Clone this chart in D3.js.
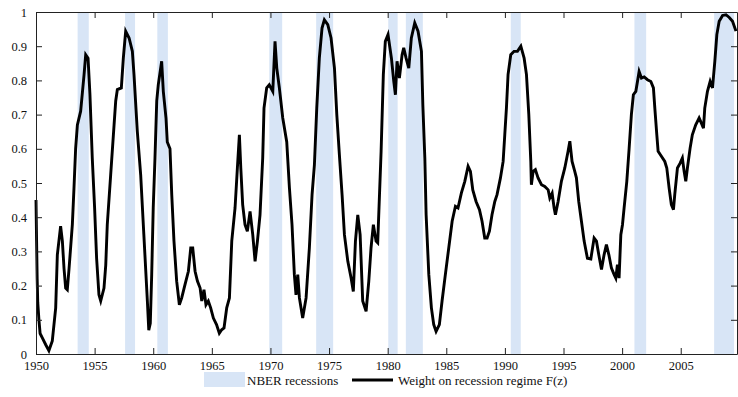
<!DOCTYPE html>
<html>
<head>
<meta charset="utf-8">
<script src="https://cdn.jsdelivr.net/npm/d3@7"></script>
<style>
  body { margin: 0; background: #fff; }
  svg text { font-family: "Liberation Serif", "Times New Roman", serif; fill: #111; }
</style>
</head>
<body>
<svg width="738" height="397"></svg>
<script>
// NBER recession periods [start, end]
var recessionStart = [1953.55, 1957.6, 1960.35, 1969.9, 1973.9, 1980.05, 1981.55, 1990.5, 2001.05, 2007.85];
var recessionEnd   = [1954.5, 1958.45, 1961.25, 1971.0, 1975.35, 1980.85, 1983.0, 1991.35, 2002.05, 2009.55];

// weight on recession regime F(z)
var years = [
	1950.00, 1950.05, 1950.10, 1950.15, 1950.25, 1950.35, 1950.54, 1950.83, 1951.10, 1951.39,
	1951.68, 1951.82, 1952.10, 1952.25, 1952.39, 1952.53, 1952.67, 1952.82, 1953.10, 1953.24,
	1953.38, 1953.53, 1953.81, 1954.10, 1954.24, 1954.44, 1954.60, 1954.80, 1955.00, 1955.17,
	1955.37, 1955.52, 1955.80, 1955.95, 1956.08, 1956.37, 1956.66, 1956.80, 1956.94, 1957.28,
	1957.45, 1957.65, 1957.94, 1958.22, 1958.36, 1958.64, 1958.93, 1959.20, 1959.50, 1959.62,
	1959.75, 1959.87, 1960.00, 1960.15, 1960.30, 1960.43, 1960.72, 1960.86, 1961.09, 1961.20,
	1961.43, 1961.58, 1961.77, 1962.00, 1962.23, 1962.43, 1962.71, 1963.00, 1963.20, 1963.37,
	1963.57, 1963.77, 1964.00, 1964.14, 1964.33, 1964.50, 1964.70, 1964.90, 1965.13, 1965.40,
	1965.64, 1965.84, 1966.04, 1966.27, 1966.50, 1966.70, 1966.98, 1967.18, 1967.35, 1967.47,
	1967.63, 1967.83, 1968.03, 1968.26, 1968.49, 1968.69, 1968.89, 1969.11, 1969.34, 1969.45,
	1969.68, 1969.90, 1970.20, 1970.39, 1970.54, 1970.76, 1971.05, 1971.39, 1971.62, 1971.84,
	1972.04, 1972.18, 1972.33, 1972.47, 1972.75, 1973.04, 1973.32, 1973.55, 1973.75, 1973.95,
	1974.17, 1974.40, 1974.60, 1974.89, 1975.17, 1975.46, 1975.66, 1975.88, 1976.11, 1976.31,
	1976.60, 1976.88, 1977.07, 1977.25, 1977.45, 1977.65, 1977.87, 1978.16, 1978.39, 1978.58,
	1978.78, 1979.01, 1979.15, 1979.44, 1979.63, 1979.80, 1980.03, 1980.32, 1980.52, 1980.66,
	1980.80, 1981.00, 1981.23, 1981.37, 1981.57, 1981.80, 1982.02, 1982.31, 1982.59, 1982.88,
	1983.00, 1983.17, 1983.28, 1983.51, 1983.73, 1983.93, 1984.13, 1984.41, 1984.64, 1984.92,
	1985.21, 1985.50, 1985.78, 1986.00, 1986.29, 1986.58, 1986.86, 1987.06, 1987.26, 1987.54,
	1987.83, 1988.05, 1988.28, 1988.48, 1988.68, 1988.90, 1989.14, 1989.33, 1989.62, 1989.85,
	1989.99, 1990.13, 1990.27, 1990.50, 1990.78, 1991.07, 1991.36, 1991.64, 1991.84, 1992.04,
	1992.21, 1992.26, 1992.41, 1992.60, 1992.83, 1993.12, 1993.40, 1993.69, 1993.83, 1994.03,
	1994.20, 1994.31, 1994.54, 1994.82, 1995.11, 1995.39, 1995.54, 1995.73, 1995.96, 1996.10,
	1996.30, 1996.53, 1996.76, 1997.04, 1997.33, 1997.61, 1997.81, 1998.01, 1998.24, 1998.46,
	1998.66, 1998.87, 1999.09, 1999.32, 1999.46, 1999.60, 1999.74, 1999.89, 2000.03, 2000.17,
	2000.40, 2000.60, 2000.79, 2000.96, 2001.17, 2001.31, 2001.45, 2001.65, 2001.88, 2002.16,
	2002.45, 2002.67, 2002.79, 2002.96, 2003.07, 2003.35, 2003.64, 2003.81, 2004.01, 2004.20,
	2004.38, 2004.49, 2004.72, 2004.95, 2005.14, 2005.29, 2005.43, 2005.57, 2005.80, 2005.99,
	2006.28, 2006.57, 2006.76, 2006.94, 2007.05, 2007.28, 2007.51, 2007.71, 2007.91, 2008.08,
	2008.28, 2008.57, 2008.86, 2009.14, 2009.42, 2009.71
];
var weights = [
	0.450, 0.330, 0.220, 0.150, 0.100, 0.060, 0.047, 0.027, 0.010, 0.038,
	0.135, 0.290, 0.374, 0.330, 0.250, 0.193, 0.188, 0.250, 0.378, 0.485,
	0.600, 0.670, 0.710, 0.817, 0.875, 0.865, 0.760, 0.573, 0.427, 0.280,
	0.173, 0.155, 0.193, 0.260, 0.378, 0.524, 0.670, 0.740, 0.773, 0.778,
	0.865, 0.944, 0.924, 0.885, 0.817, 0.652, 0.524, 0.349, 0.155, 0.070,
	0.090, 0.232, 0.427, 0.573, 0.740, 0.787, 0.856, 0.768, 0.690, 0.620,
	0.600, 0.466, 0.330, 0.213, 0.144, 0.164, 0.203, 0.242, 0.310, 0.310,
	0.242, 0.213, 0.193, 0.155, 0.188, 0.144, 0.155, 0.135, 0.105, 0.086,
	0.061, 0.071, 0.076, 0.135, 0.164, 0.330, 0.427, 0.544, 0.641, 0.544,
	0.437, 0.378, 0.359, 0.417, 0.349, 0.271, 0.330, 0.407, 0.573, 0.719,
	0.778, 0.787, 0.768, 0.914, 0.836, 0.778, 0.690, 0.620, 0.485, 0.378,
	0.232, 0.173, 0.232, 0.164, 0.105, 0.164, 0.310, 0.466, 0.553, 0.719,
	0.865, 0.953, 0.977, 0.963, 0.924, 0.836, 0.700, 0.583, 0.466, 0.349,
	0.271, 0.222, 0.183, 0.330, 0.407, 0.349, 0.155, 0.125, 0.213, 0.310,
	0.378, 0.330, 0.325, 0.593, 0.817, 0.914, 0.934, 0.865, 0.797, 0.758,
	0.856, 0.807, 0.875, 0.895, 0.865, 0.836, 0.924, 0.968, 0.944, 0.885,
	0.729, 0.573, 0.407, 0.232, 0.135, 0.086, 0.066, 0.086, 0.155, 0.232,
	0.310, 0.388, 0.432, 0.427, 0.471, 0.505, 0.549, 0.534, 0.480, 0.446,
	0.422, 0.388, 0.339, 0.339, 0.359, 0.407, 0.446, 0.466, 0.515, 0.563,
	0.641, 0.719, 0.817, 0.875, 0.885, 0.885, 0.900, 0.865, 0.817, 0.700,
	0.563, 0.495, 0.534, 0.539, 0.515, 0.495, 0.490, 0.480, 0.456, 0.470,
	0.427, 0.407, 0.446, 0.505, 0.544, 0.593, 0.622, 0.563, 0.534, 0.515,
	0.446, 0.388, 0.330, 0.280, 0.278, 0.339, 0.330, 0.290, 0.247, 0.290,
	0.320, 0.290, 0.251, 0.232, 0.222, 0.261, 0.222, 0.349, 0.378, 0.427,
	0.505, 0.602, 0.700, 0.758, 0.768, 0.797, 0.826, 0.807, 0.810, 0.802,
	0.797, 0.778, 0.719, 0.641, 0.593, 0.578, 0.563, 0.544, 0.485, 0.437,
	0.422, 0.466, 0.544, 0.558, 0.573, 0.534, 0.505, 0.544, 0.602, 0.641,
	0.670, 0.690, 0.675, 0.660, 0.719, 0.768, 0.797, 0.778, 0.856, 0.934,
	0.973, 0.990, 0.992, 0.984, 0.973, 0.944
];

var yearTicks = [1950, 1955, 1960, 1965, 1970, 1975, 1980, 1985, 1990, 1995, 2000, 2005];
var weightTicks = [0, 0.1, 0.2, 0.3, 0.4, 0.5, 0.6, 0.7, 0.8, 0.9, 1];

var plotLeft = 36, plotRight = 737, plotTop = 12, plotBottom = 354;

var svg = d3.select("svg");

var x = d3.scaleLinear().domain([1950, 2009.8]).range([plotLeft, plotRight]);
var y = d3.scaleLinear().domain([0, 1]).range([plotBottom, plotTop]);

var bandColor = "#d8e5f6";

// recession bands
svg.append("g")
	.attr("class", "recessions")
	.selectAll("rect")
	.data(recessionStart)
	.enter()
	.append("rect")
	.attr("x", function(d) { return x(d); })
	.attr("width", function(d, i) { return x(recessionEnd[i]) - x(d); })
	.attr("y", plotTop)
	.attr("height", plotBottom - plotTop)
	.attr("fill", bandColor);

// the weight line
var line = d3.line()
	.x(function(d, i) { return x(years[i]); })
	.y(function(d) { return y(d); });

svg.append("path")
	.datum(weights)
	.attr("d", line)
	.attr("fill", "none")
	.attr("stroke", "#000")
	.attr("stroke-width", 2.9)
	.attr("stroke-linejoin", "miter");

// axes, ticks pointing inward
var fmt = function(d) { return d === 0 ? "0" : d === 1 ? "1" : d3.format(".1f")(d); };

svg.append("g")
	.attr("transform", "translate(0," + plotBottom + ")")
	.call(d3.axisBottom(x).tickValues(yearTicks).tickFormat(d3.format("d"))
		.tickSizeInner(-6).tickSizeOuter(0).tickPadding(7));

svg.append("g")
	.attr("transform", "translate(0," + plotTop + ")")
	.call(d3.axisTop(x).tickValues(yearTicks).tickFormat("")
		.tickSizeInner(-6).tickSizeOuter(0));

svg.append("g")
	.attr("transform", "translate(" + plotLeft + ",0)")
	.call(d3.axisLeft(y).tickValues(weightTicks).tickFormat(fmt)
		.tickSizeInner(-6).tickSizeOuter(0).tickPadding(9));

svg.append("g")
	.attr("transform", "translate(" + plotRight + ",0)")
	.call(d3.axisRight(y).tickValues(weightTicks).tickFormat("")
		.tickSizeInner(-6).tickSizeOuter(0));

svg.selectAll(".domain, .tick line").attr("stroke", "#222");
svg.selectAll(".tick text")
	.attr("font-size", 12.5)
	.attr("font-family", "Liberation Serif, serif")
	.attr("fill", "#000");

// legend
var legend = svg.append("g").attr("class", "legend");

legend.append("rect")
	.attr("x", 204)
	.attr("y", 372)
	.attr("width", 41)
	.attr("height", 15)
	.attr("fill", bandColor);

legend.append("text")
	.attr("x", 247)
	.attr("y", 385)
	.attr("font-size", 13)
	.attr("fill", "#000")
	.text("NBER recessions");

legend.append("line")
	.attr("x1", 352)
	.attr("x2", 393)
	.attr("y1", 380)
	.attr("y2", 380)
	.attr("stroke", "#000")
	.attr("stroke-width", 2.9);

legend.append("text")
	.attr("x", 398)
	.attr("y", 385)
	.attr("font-size", 13)
	.attr("fill", "#000")
	.text("Weight on recession regime F(z)");
</script>
</body>
</html>
